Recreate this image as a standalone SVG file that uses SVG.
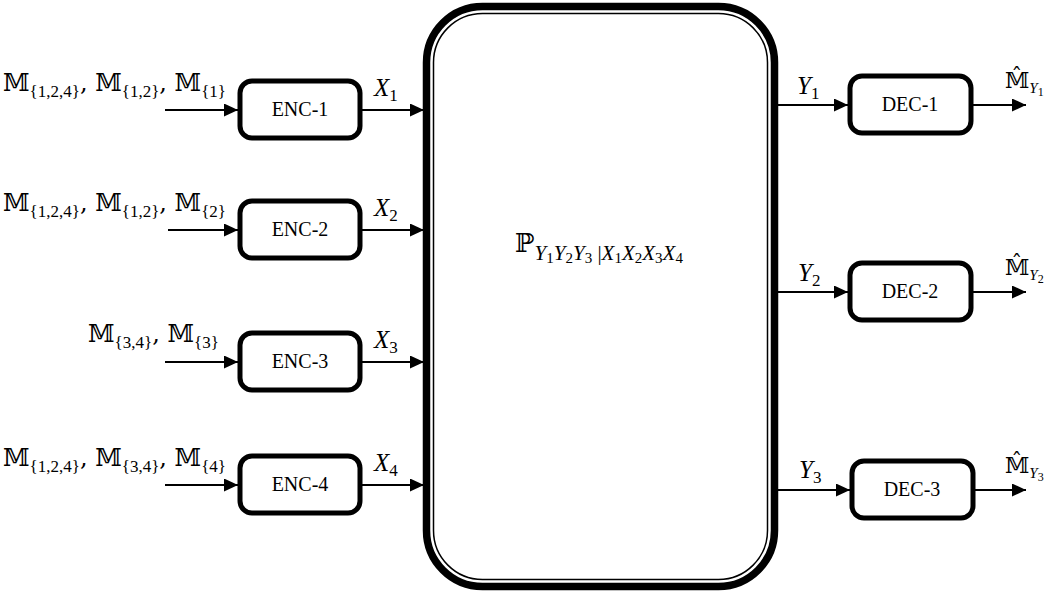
<svg xmlns="http://www.w3.org/2000/svg" width="1050" height="597" viewBox="0 0 1050 597">
<style>
.box{fill:#fff;stroke:#000;stroke-width:5}
.lbl{font-family:"Liberation Serif","DejaVu Serif",serif;font-size:20px;fill:#000;text-anchor:middle}
.m{font-family:"DejaVu Serif","DejaVu Sans",serif;font-size:24px;fill:#000}
.v{font-family:"Liberation Serif","DejaVu Serif",serif;font-style:italic;font-size:25px;fill:#000}
.s{font-family:"Liberation Serif","DejaVu Serif",serif;font-style:normal;font-size:17px}
.p{font-size:26px}
.pv{font-family:"Liberation Serif","DejaVu Serif",serif;font-style:italic;font-size:21px}
.pd{font-family:"Liberation Serif","DejaVu Serif",serif;font-style:normal;font-size:15px}
.pb{font-family:"Liberation Serif","DejaVu Serif",serif;font-style:normal;font-size:21px}
.h{font-size:22px}
.hv{font-family:"Liberation Serif","DejaVu Serif",serif;font-style:italic;font-size:15px}
.hd{font-family:"Liberation Serif","DejaVu Serif",serif;font-style:normal;font-size:12px}
.ln{stroke:#000;stroke-width:2;fill:none;marker-end:url(#ah)}
</style>
<defs>
<marker id="ah" viewBox="0 0 10 10" refX="10" refY="5" markerWidth="14" markerHeight="13" markerUnits="userSpaceOnUse" orient="auto" preserveAspectRatio="none">
<path d="M0,0 L10,5 L0,10 z" fill="#000"/>
</marker>
</defs>
<rect width="1050" height="597" fill="#fff"/>
<g id="channel">
<rect x="426.5" y="6.5" width="348" height="580" rx="56" fill="#fff" stroke="#000" stroke-width="7.5"/>
<rect x="433.5" y="13.5" width="334" height="566" rx="49" fill="none" stroke="#000" stroke-width="1.5"/>
<text class="m p" x="515" y="252">ℙ<tspan class="pv" dy="8">Y</tspan><tspan class="pd" dy="3">1</tspan><tspan class="pv" dy="-3">Y</tspan><tspan class="pd" dy="3">2</tspan><tspan class="pv" dy="-3">Y</tspan><tspan class="pd" dy="3">3</tspan><tspan class="pb" dy="-3"> |</tspan><tspan class="pv">X</tspan><tspan class="pd" dy="3">1</tspan><tspan class="pv" dy="-3">X</tspan><tspan class="pd" dy="3">2</tspan><tspan class="pv" dy="-3">X</tspan><tspan class="pd" dy="3">3</tspan><tspan class="pv" dy="-3">X</tspan><tspan class="pd" dy="3">4</tspan></text>
</g>
<g id="enc1"><rect class="box" x="240" y="81" width="120" height="57" rx="12"/><text class="lbl" x="300" y="116">ENC-1</text></g>
<g id="enc2"><rect class="box" x="240" y="201" width="120" height="57" rx="12"/><text class="lbl" x="300" y="236">ENC-2</text></g>
<g id="enc3"><rect class="box" x="240" y="333" width="120" height="57" rx="12"/><text class="lbl" x="300" y="368">ENC-3</text></g>
<g id="enc4"><rect class="box" x="240" y="456" width="120" height="57" rx="12"/><text class="lbl" x="300" y="491">ENC-4</text></g>
<g id="dec1"><rect class="box" x="850" y="76" width="121" height="57" rx="12"/><text class="lbl" x="910" y="111">DEC-1</text></g>
<g id="dec2"><rect class="box" x="850" y="263" width="121" height="57" rx="12"/><text class="lbl" x="910" y="298">DEC-2</text></g>
<g id="dec3"><rect class="box" x="852" y="461" width="121" height="57" rx="12"/><text class="lbl" x="912" y="496">DEC-3</text></g>
<g id="connectors">
<line class="ln" x1="165" y1="110" x2="238" y2="110"/>
<line class="ln" x1="168" y1="230" x2="238" y2="230"/>
<line class="ln" x1="165" y1="362" x2="238" y2="362"/>
<line class="ln" x1="165" y1="485" x2="238" y2="485"/>
<line class="ln" x1="362" y1="110" x2="424" y2="110"/>
<line class="ln" x1="362" y1="230" x2="424" y2="230"/>
<line class="ln" x1="362" y1="362" x2="424" y2="362"/>
<line class="ln" x1="362" y1="485" x2="424" y2="485"/>
<line class="ln" x1="778" y1="105" x2="848" y2="105"/>
<line class="ln" x1="778" y1="292" x2="848" y2="292"/>
<line class="ln" x1="778" y1="490" x2="850" y2="490"/>
<line class="ln" x1="973" y1="105" x2="1026" y2="105"/>
<line class="ln" x1="973" y1="292" x2="1026" y2="292"/>
<line class="ln" x1="975" y1="490" x2="1026" y2="490"/>
</g>
<g id="labels">
<text class="m" x="3" y="91">𝕄<tspan class="s" dy="6">{1,2,4}</tspan><tspan dy="-6">, 𝕄</tspan><tspan class="s" dy="6">{1,2}</tspan><tspan dy="-6">, 𝕄</tspan><tspan class="s" dy="6">{1}</tspan></text>
<text class="m" x="3" y="211">𝕄<tspan class="s" dy="6">{1,2,4}</tspan><tspan dy="-6">, 𝕄</tspan><tspan class="s" dy="6">{1,2}</tspan><tspan dy="-6">, 𝕄</tspan><tspan class="s" dy="6">{2}</tspan></text>
<text class="m" x="88" y="342">𝕄<tspan class="s" dy="6">{3,4}</tspan><tspan dy="-6">, 𝕄</tspan><tspan class="s" dy="6">{3}</tspan></text>
<text class="m" x="3" y="466">𝕄<tspan class="s" dy="6">{1,2,4}</tspan><tspan dy="-6">, 𝕄</tspan><tspan class="s" dy="6">{3,4}</tspan><tspan dy="-6">, 𝕄</tspan><tspan class="s" dy="6">{4}</tspan></text>
<text class="v" x="374" y="96">X<tspan class="s" dy="5">1</tspan></text>
<text class="v" x="374" y="216">X<tspan class="s" dy="5">2</tspan></text>
<text class="v" x="374" y="348">X<tspan class="s" dy="5">3</tspan></text>
<text class="v" x="374" y="471">X<tspan class="s" dy="5">4</tspan></text>
<text class="v" x="797" y="94">Y<tspan class="s" dy="5">1</tspan></text>
<text class="v" x="798" y="281">Y<tspan class="s" dy="5">2</tspan></text>
<text class="v" x="799" y="478">Y<tspan class="s" dy="5">3</tspan></text>
<text class="m h" x="1005" y="88">𝕄̂<tspan class="hv" dy="5">Y</tspan><tspan class="hd" dy="3">1</tspan></text>
<text class="m h" x="1005" y="275">𝕄̂<tspan class="hv" dy="5">Y</tspan><tspan class="hd" dy="3">2</tspan></text>
<text class="m h" x="1005" y="473">𝕄̂<tspan class="hv" dy="5">Y</tspan><tspan class="hd" dy="3">3</tspan></text>
</g>
</svg>
